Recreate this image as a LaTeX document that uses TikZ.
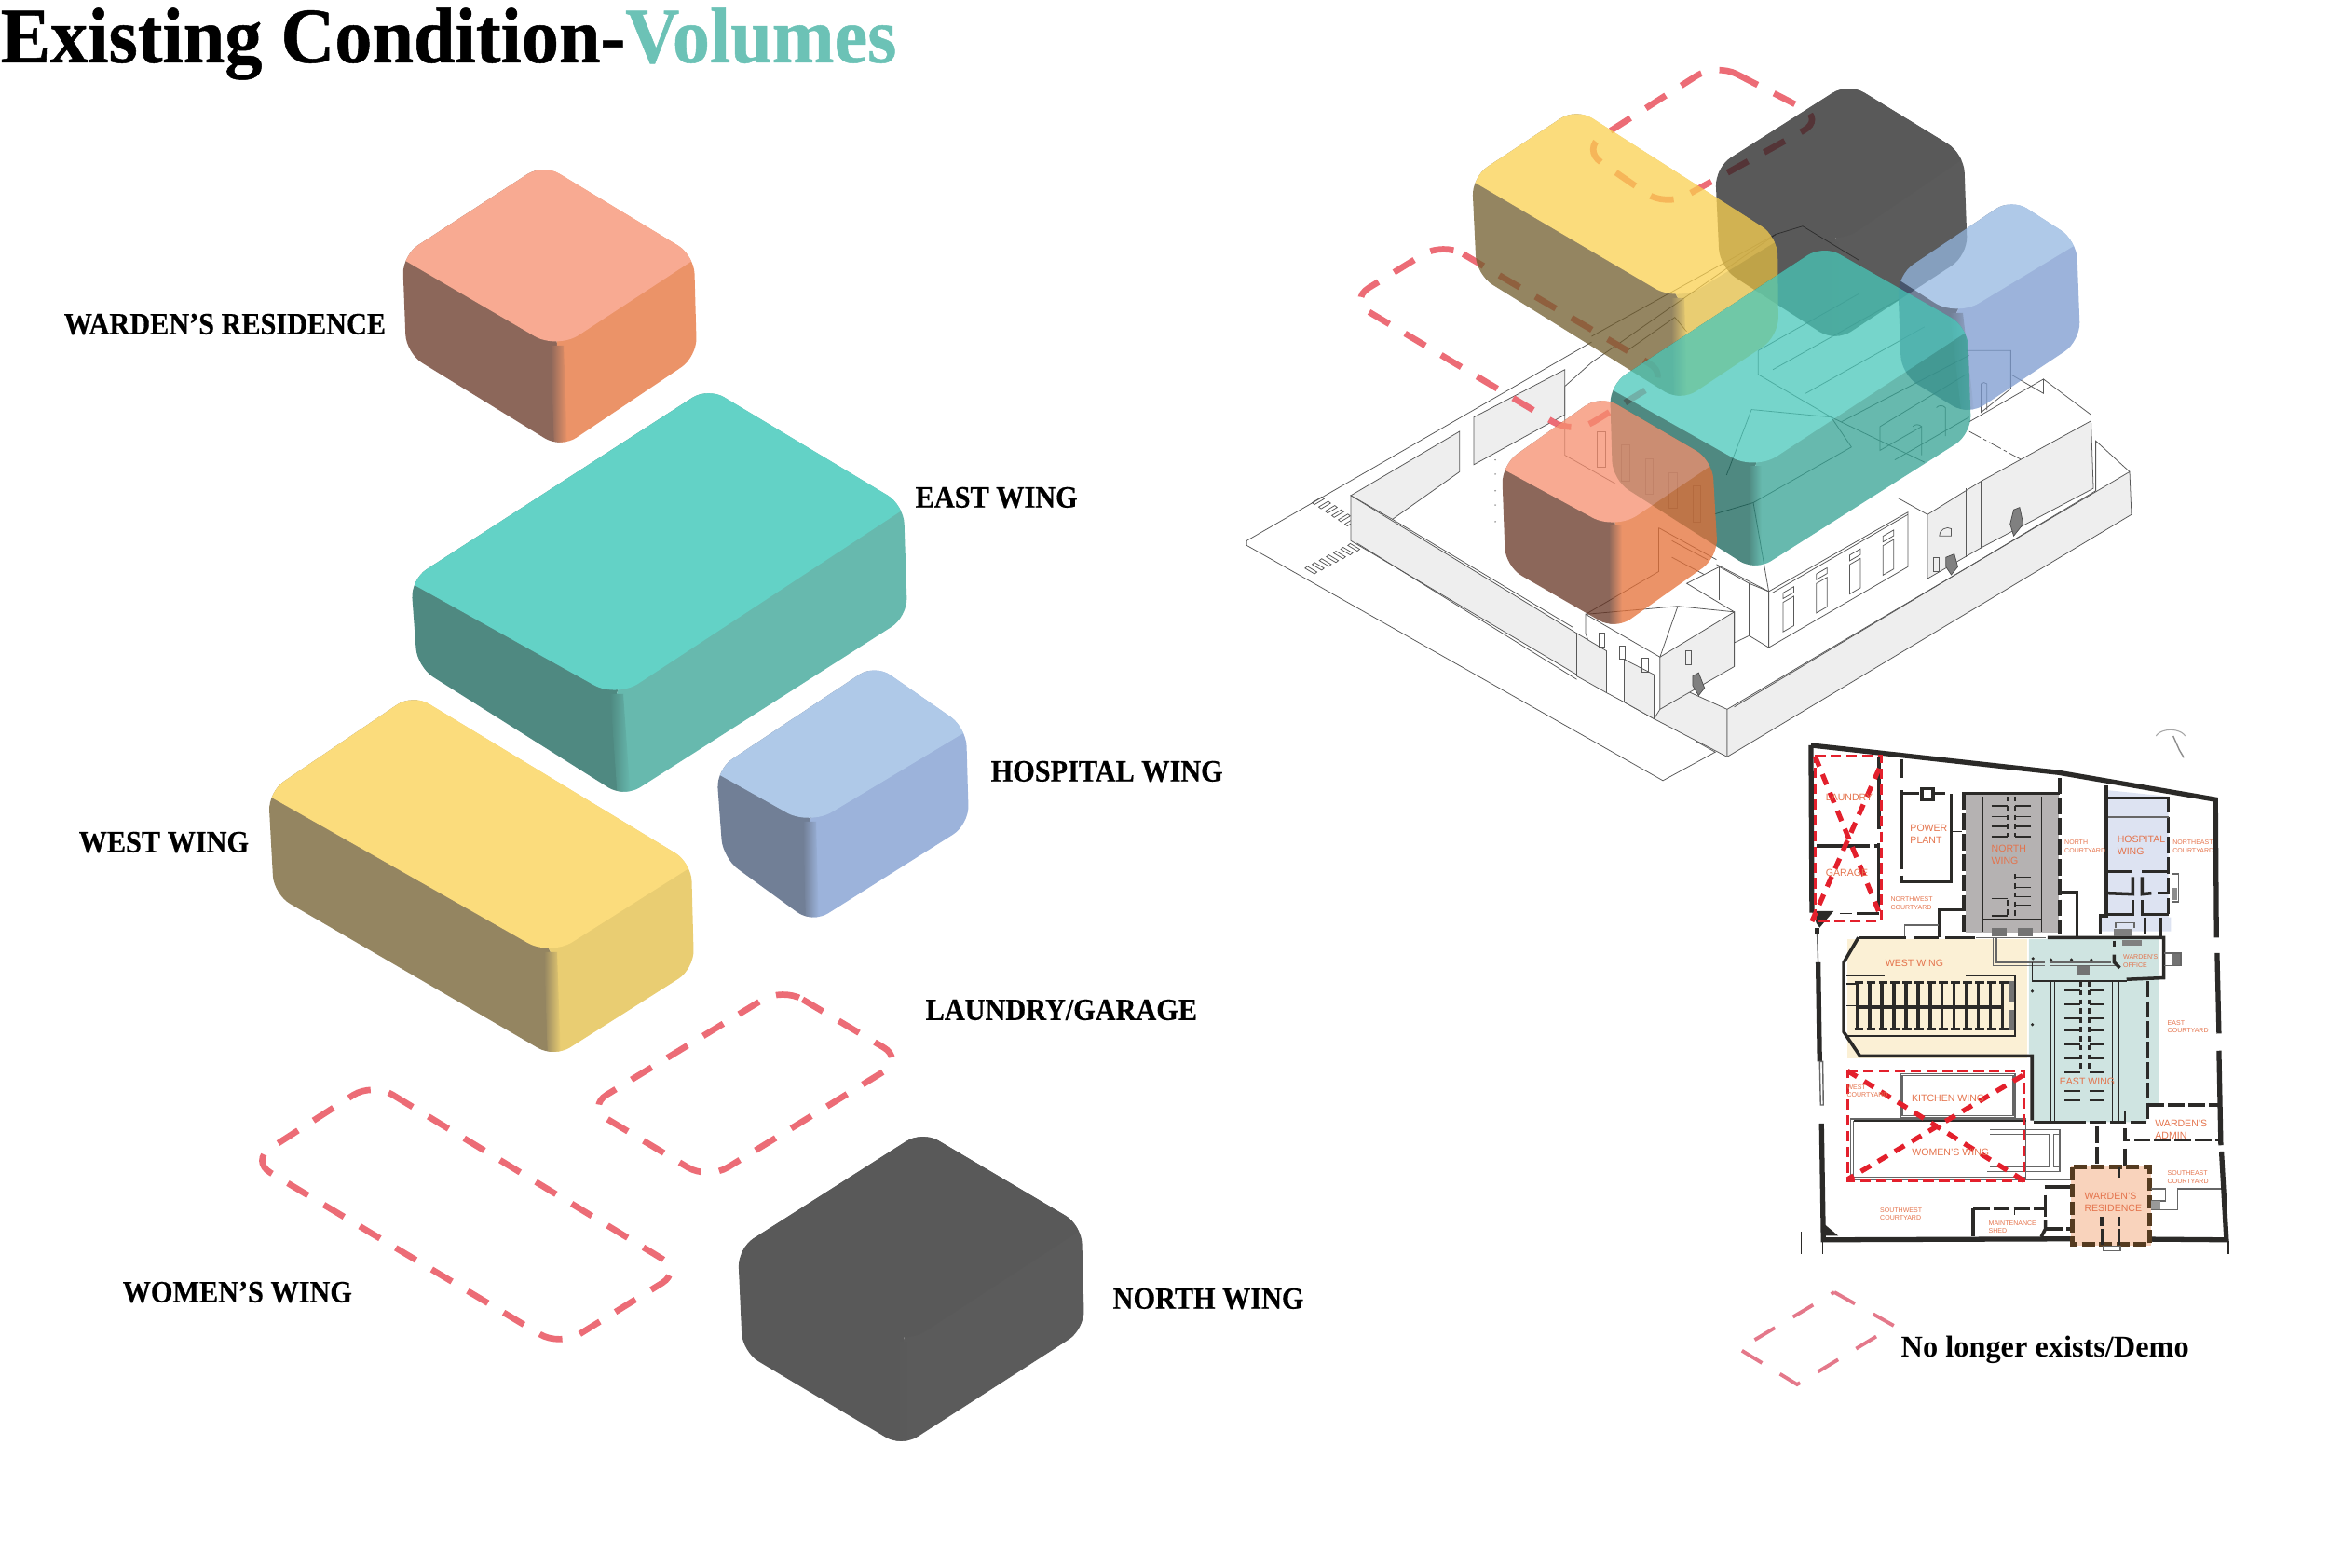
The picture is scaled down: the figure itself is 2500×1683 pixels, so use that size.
\documentclass[tikz,border=0pt]{standalone}
\usepackage{fontspec}
\setmainfont{Liberation Serif}
\newfontfamily\plansans{Liberation Sans}
\newfontfamily\titleserif{Liberation Serif}[FakeStretch=0.95, BoldFeatures={FakeBold=0.6}]
\newfontfamily\nameserif{Liberation Serif}[FakeStretch=0.915, BoldFeatures={FakeBold=0.4}]
\usetikzlibrary{calc, positioning}
\definecolor{wardentop}{HTML}{F8AA92}
\definecolor{wardenleft}{HTML}{8C675A}
\definecolor{wardenright}{HTML}{EB9368}
\definecolor{easttop}{HTML}{63D2C6}
\definecolor{eastleft}{HTML}{4F8981}
\definecolor{eastright}{HTML}{67B9AE}
\definecolor{westtop}{HTML}{FBDC7C}
\definecolor{westleft}{HTML}{948561}
\definecolor{westright}{HTML}{E9CD72}
\definecolor{hosptop}{HTML}{AFC9E8}
\definecolor{hospleft}{HTML}{717F96}
\definecolor{hospright}{HTML}{9CB3DB}
\definecolor{northtop}{HTML}{595959}
\definecolor{northleft}{HTML}{595959}
\definecolor{northright}{HTML}{5B5B5B}
% stronger versions, for the see-through blocks
\definecolor{glasswardentop}{HTML}{F68E6E}
\definecolor{glasswardenleft}{HTML}{663423}
\definecolor{glasswardenright}{HTML}{E46F36}
\definecolor{glasseasttop}{HTML}{48C7B9}
\definecolor{glasseastleft}{HTML}{146257}
\definecolor{glasseastright}{HTML}{34A293}
\definecolor{glasswesttop}{HTML}{FAD050}
\definecolor{glasswestleft}{HTML}{705C2C}
\definecolor{glasswestright}{HTML}{E2BC43}
\definecolor{glasshosptop}{HTML}{94B7E0}
\definecolor{glasshospleft}{HTML}{425473}
\definecolor{glasshospright}{HTML}{7B9ACF}
\definecolor{glassnorthtop}{HTML}{222222}
\definecolor{glassnorthleft}{HTML}{222222}
\definecolor{glassnorthright}{HTML}{242424}
\definecolor{demoRed}{HTML}{EC6C76}
\definecolor{legendRed}{HTML}{E4788A}
\definecolor{planRed}{HTML}{E3202C}
\definecolor{planText}{HTML}{E4734C}
\definecolor{planWall}{HTML}{2B2A28}
\definecolor{wallGray}{HTML}{EEEEEE}
\definecolor{titleTeal}{HTML}{6CC2B6}
\definecolor{roomWest}{HTML}{FBF0D5}
\definecolor{roomEast}{HTML}{CFE4E1}
\definecolor{roomNorth}{HTML}{B5B2B2}
\definecolor{roomHosp}{HTML}{DDE3F2}
\definecolor{roomWarden}{HTML}{F9D3BC}
\def\volop{1}
% one rounded block: colour, top, left, right, front, low left, low right, bottom
\newcommand{\isovolume}[8]{%
  \begin{scope}[transparency group, opacity=\volop]
    \clip[rounded corners=2mm] ($#3+(-2,0)$) -- ($#2+(0,-6)$) -- ($#4+(2,0)$) -- ($#7+(2,0)$) -- ($#8+(0,6)$) -- ($#6+(-2,0)$) -- cycle;
    \fill[#1left] ($#3+(-9,0)$) -- ($#2+(0,-9)$) -- #5 -- ($#8+(0,9)$) -- ($#6+(-9,0)$) -- cycle;
    \fill[#1right] #5 -- ($#2+(0,-9)$) -- ($#4+(9,0)$) -- ($#7+(9,0)$) -- ($#8+(0,9)$) -- cycle;
    \shade[left color=#1left, right color=#1right]
      ($#5+(-7,0)$) -- ($#5+(7,0)$) -- ($#8+(7,9)$) -- ($#8+(-7,9)$) -- cycle;
    \fill[#1top] ($#3+(-9,0)$) -- ($#2+(0,-9)$) -- ($#4+(9,0)$) [rounded corners=2.8mm] -- ($#5+(0,4)$) [sharp corners] -- cycle;
  \end{scope}}

\begin{document}
\begin{tikzpicture}[
    x=0.01cm, y=-0.01cm,
    volname/.style={font=\nameserif\bfseries\fontsize{9.4}{11}\selectfont, anchor=west, inner sep=0pt},
    demoline/.style={draw=demoRed, line width=1.9pt, dash pattern=on 7.2pt off 5.6pt, rounded corners=2.5mm},
    lineart/.style={draw=black!65, line width=0.22pt},
    greywall/.style={lineart, fill=wallGray},
    whitewall/.style={lineart, fill=white},
    stair/.style={fill=black!50, draw=black!70, line width=0.2pt},
    planfill/.style={draw=none},
    wall/.style={draw=planWall, line width=1pt},
    thinwall/.style={draw=planWall, line width=0.4pt},
    doublewall/.style={draw=black!60, line width=0.4pt},
    outerwall/.style={draw=planWall, line width=1.5pt},
    dashwall/.style={wall, dash pattern=on 5pt off 1.2pt},
    bedwall/.style={thinwall, line width=0.8pt, dash pattern=on 1.6pt off 1.2pt},
    redbox/.style={draw=planRed, line width=0.8pt, dash pattern=on 3.2pt off 1.6pt},
    redx/.style={draw=planRed, line width=1.5pt, dash pattern=on 3.4pt off 2.6pt},
    plantext/.style={font=\plansans\fontsize{3}{3.7}\selectfont, text=planText, align=left, inner sep=0pt},
    plansmall/.style={font=\plansans\fontsize{2}{2.5}\selectfont, text=planText, align=left, inner sep=0pt},
  ]
  \useasboundingbox (0,0) rectangle (2500,1683);

  % title
  \node[anchor=base west, inner sep=0pt, font=\titleserif\bfseries\fontsize{24}{28}\selectfont] (title) at (0,67)
    {Existing Condition-\textcolor{titleTeal}{Volumes}};

  % exploded volumes
  \isovolume{warden}{(583,182)}{(434,274)}{(743,274)}{(598,371)}{(438,379)}{(746,383)}{(602,475)}
  \isovolume{east}{(760,422)}{(443,622)}{(968,542)}{(662,745)}{(450,716)}{(972,662)}{(670,850)}
  \isovolume{west}{(443,751)}{(290,850)}{(740,926)}{(591,1022)}{(296,960)}{(743,1040)}{(595,1129)}
  \isovolume{hosp}{(939,719)}{(771,826)}{(1035,781)}{(869,882)}{(778,921)}{(1038,885)}{(872,985)}
  \isovolume{north}{(990,1220)}{(794,1340)}{(1159,1315)}{(970,1440)}{(799,1451)}{(1162,1427)}{(968,1547)}

  % removed volumes
  \draw[demoline] (840,1060) -- (970,1137) -- (760,1266) -- (630,1188) -- cycle;
  \draw[demoline] (400,1162) -- (732,1364) -- (601,1445) -- (269,1246) -- cycle;

  % volume names
  \node[volname] (wardenname) at (68,348) {WARDEN’S RESIDENCE};
  \node[volname] (eastname) at (982,534) {EAST WING};
  \node[volname] (hospname) at (1063,828) {HOSPITAL WING};
  \node[volname] (westname) at (84,904) {WEST WING};
  \node[volname] (laundryname) at (993,1084) {LAUNDRY/GARAGE};
  \node[volname] (womenname) at (131,1387) {WOMEN’S WING};
  \node[volname] (northname) at (1194,1394) {NORTH WING};

  % line drawing of the site
  \begin{scope}[shift={(1300,50)}, x=0.00638cm, y=-0.0051cm]
    \draw[lineart] (640,622) -- (60,1040) -- (60,1050) -- (760,1545) -- (848,1485) -- (815,1462);
    \foreach \i in {0,...,6} {
      \draw[lineart] ({170+11*\i},{960+9*\i}) -- ++(16,-12) -- ++(4,4) -- ++(-16,12) -- cycle;
      \draw[lineart] ({158+12*\i},{1098-8*\i}) -- ++(16,12) -- ++(4,-4) -- ++(-16,-12) -- cycle;
    }
    \draw[greywall] (235,945) -- (418,810) -- (418,895) -- (305,995) -- (245,952) -- cycle;
    \draw[greywall] (442,780) -- (595,680) -- (595,775) -- (442,880) -- cycle;
    \draw[greywall] (235,945) -- (615,1235) -- (615,1322) -- (235,1040) -- cycle;
    \draw[lineart] (245,1045) -- (615,1332);
    \draw[lineart] (305,995) -- (608,1222);
    \draw[greywall] (745,1325) -- (868,1395) -- (868,1495) -- (745,1415) -- cycle;
    \draw[greywall] (868,1395) -- (1545,895) -- (1548,985) -- (868,1495) -- cycle;
    \draw[lineart] (880,1390) -- (1488,935) -- (1488,830) -- (1545,895);
    % back of the buildings
    \draw[lineart] (595,715) -- (640,665) -- (950,395) -- (995,378) -- (1090,450);
    \draw[lineart] (595,715) -- (595,860) -- (680,920);
    \draw[lineart] (640,610) -- (950,395);
    \draw[lineart] (700,640) -- (780,570) -- (800,600);
    \draw[lineart] (920,640) -- (1090,520);
    \draw[lineart] (945,680) -- (1160,530);
    \draw[lineart] (1000,730) -- (1200,590);
    \draw[lineart] (1060,790) -- (1275,650);
    \draw[lineart] (920,640) -- (920,690) -- (1043,780);
    \draw[lineart] (1125,800) -- (1270,690);
    \draw[lineart] (1150,870) -- (1275,780);
    \draw[lineart] (1125,800) -- (1125,850) -- (1195,800) -- (1195,860);
    \draw[lineart] (1220,760) to[bend left=50] (1235,760) -- (1235,820);
    \draw[lineart] (1180,800) to[bend left=50] (1195,800);
    \draw[lineart] (1270,640) -- (1345,640) -- (1345,720) -- (1295,770) -- (1295,710) to[bend left=50] (1305,710) -- (1305,765);
    \draw[lineart] (1345,690) -- (1400,730) -- (1400,700) -- (1275,790);
    \draw[lineart] (1400,700) -- (1480,775) -- (1480,790);
    \draw[lineart, dash pattern=on 4pt off 1pt on 1pt off 1pt] (1275,810) -- (1430,915);
    \draw[lineart, dash pattern=on 4pt off 1pt] (1360,890) -- (1425,930);
    \draw[lineart, dash pattern=on 4pt off 1pt] (1365,945) -- (1410,980);
    % roof lines
    \draw[lineart] (909,764) -- (1043,780) -- (1077,843) -- (912,960) -- (847,984);
    \draw[lineart] (909,764) -- (867,902);
    \draw[lineart] (1043,780) -- (1200,875);
    \draw[lineart] (912,960) -- (938,1147);
    \foreach \x in {650,690,730,770,810} \draw[lineart] (\x,{810+(\x-650)*0.72}) rectangle ++(14,75);
    \foreach \y in {870,900,935,965,1000} \fill[black!45] (478,\y) circle (1.6 and 1.6);
    \draw[lineart] (753,1013) -- (850,1080);
    \draw[lineart] (753,1013) -- (753,1105) -- (630,1195);
    \foreach \y in {1040,1075} \draw[lineart] (775,\y) -- ++(60,40);
    % front range with its windows
    \draw[whitewall] (905,1130) -- (938,1147) -- (938,1265) -- (905,1240) -- cycle;
    \draw[whitewall] (938,1147) -- (1172,980) -- (1172,1095) -- (938,1265) -- cycle;
    \draw[lineart] (944,1150) -- (1172,985);
    \draw[lineart] (850,1090) -- (938,1147);
    \foreach \x in {962,1018,1074,1130} {
      \draw[lineart] (\x,{1170-0.71*(\x-962)}) -- ++(18,-13) -- ++(0,62) -- ++(-18,13) -- cycle;
      \draw[lineart] (\x,{1150-0.71*(\x-962)}) -- ++(18,-13) -- ++(0,12) -- ++(-18,13) -- cycle;
    }
    % south-east tower and wall
    \draw[lineart] (1155,950) -- (1205,985);
    \draw[greywall] (1205,985) -- (1295,915) -- (1295,1055) -- (1205,1120) -- cycle;
    \draw[lineart] (1270,930) -- (1270,1075);
    \draw[lineart] (1225,1030) to[bend left=70] (1245,1015) -- (1245,1030) -- cycle;
    \draw[lineart] (1215,1075) rectangle (1225,1105);
    \draw[stair] (1236,1075) -- (1250,1068) -- (1256,1095) -- (1245,1112) -- (1236,1095) -- cycle;
    \draw[greywall] (1295,915) -- (1480,788) -- (1484,930) -- (1295,1055) -- cycle;
    \draw[stair] (1350,975) -- (1360,970) -- (1366,1005) -- (1350,1030) -- (1344,1005) -- cycle;
    % warden's house
    \draw[whitewall] (800,1130) -- (855,1095) -- (905,1130) -- (905,1240) -- (880,1255) -- (880,1190) -- cycle;
    \draw[lineart] (855,1095) -- (855,1165);
    \draw[greywall] (755,1285) -- (880,1190) -- (880,1305) -- (755,1395) -- cycle;
    \draw[whitewall] (630,1195) -- (755,1285) -- (755,1395) -- (745,1415) -- (695,1380) -- (665,1360) -- (630,1235) -- cycle;
    \draw[greywall] (615,1235) -- (665,1272) -- (665,1360) -- (615,1325) -- cycle;
    \draw[greywall] (695,1290) -- (745,1322) -- (745,1415) -- (695,1380) -- cycle;
    \draw[lineart] (630,1195) -- (785,1178) -- (880,1190);
    \draw[lineart] (755,1285) -- (785,1178);
    \foreach \x/\y in {652/1235,687/1262,725/1288,798/1272} \draw[lineart] (\x,\y) rectangle ++(10,28);
    \draw[stair] (810,1325) -- (820,1318) -- (830,1350) -- (820,1366) -- (810,1345) -- cycle;
  \end{scope}

  % removed volumes, seen from above
  \draw[demoline] (1842,68) -- (1958,128) -- (1788,222) -- (1698,160) -- cycle;
  \draw[demoline] (1549,260) -- (1792,403) -- (1689,466) -- (1448,322) -- cycle;

  % the volumes over the site
  \def\volop{0.75}
  \isovolume{glassnorth}{(1984,95)}{(1843,180)}{(2106,165)}{(1970,260)}{(1848,287)}{(2110,274)}{(1970,361)}
  \isovolume{glasshosp}{(2159,219)}{(2039,295)}{(2227,258)}{(2100,336)}{(2043,402)}{(2231,366)}{(2113,440)}
  \isovolume{glasswest}{(1692,122)}{(1582,190)}{(1906,254)}{(1801,320)}{(1587,295)}{(1907,361)}{(1804,425)}
  \isovolume{glasseast}{(1957,269)}{(1730,413)}{(2110,351)}{(1884,501)}{(1733,515)}{(2114,466)}{(1884,607)}
  \isovolume{glasswarden}{(1718,430)}{(1614,499)}{(1836,494)}{(1734,565)}{(1618,608)}{(1842,598)}{(1734,670)}
  \def\volop{1}

  % floor plan
  \begin{scope}[shift={(1900,770)}, x=0.003333cm, y=-0.003333cm]
    \fill[planfill, fill=roomWest] (250,715) -- (830,715) -- (830,1100) -- (250,1100) -- cycle;
    \fill[planfill, fill=roomEast] (835,715) -- (1255,715) -- (1255,1250) -- (1215,1250) -- (1215,1305) -- (850,1305) -- (850,1090) -- (835,1085) -- cycle;
    \fill[planfill, fill=roomNorth] (630,250) -- (930,250) -- (930,695) -- (630,695) -- cycle;
    \fill[planfill, fill=roomHosp] (1090,235) -- (1285,255) -- (1285,645) -- (1293,645) -- (1293,690) -- (1060,690) -- (1060,640) -- (1090,640) -- cycle;
    \fill[planfill, fill=roomWarden] (970,1445) -- (1228,1445) -- (1228,1705) -- (970,1705) -- cycle;
    % boundary
    \draw[outerwall] (132,90) -- (930,178) -- (1437,265) -- (1440,710);
    \draw[outerwall] (1442,760) -- (1448,1020);
    \draw[outerwall] (1448,1075) -- (1454,1380);
    \draw[outerwall] (1456,1400) -- (1472,1685) -- (1228,1683);
    \draw[outerwall] (132,90) -- (135,630);
    \draw[outerwall] (152,680) -- (152,700);
    \draw[outerwall] (155,790) -- (160,1110);
    \draw[outerwall] (166,1310) -- (172,1685) -- (970,1682);
    \draw[doublewall] (152,700) -- (155,790);
    \draw[doublewall] (160,1110) -- (163,1250) -- (172,1250) -- (170,1110) -- cycle;
    \fill[planWall] (170,1630) -- (220,1672) -- (170,1672) -- cycle;
    \fill[planWall] (135,625) -- (205,625) -- (160,678) -- (150,665) -- cycle;
    \draw[thinwall] (100,1660) -- (100,1730);
    \draw[thinwall] (170,1690) -- (170,1730);
    \draw[thinwall] (1478,1690) -- (1478,1730);
    % laundry and garage
    \draw[wall] (150,415) -- (320,415);
    \draw[wall] (335,415) -- (350,415);
    \draw[wall] (352,125) -- (352,360);
    \draw[wall] (350,405) -- (350,625);
    \draw[wall] (280,632) -- (350,632);
    \draw[thinwall] (225,632) -- (265,632);
    % power plant
    \draw[wall] (425,135) -- (425,195);
    \draw[wall] (425,235) -- (425,490);
    \draw[wall] (425,510) -- (425,530) -- (585,530) -- (585,245);
    \draw[wall] (425,245) -- (480,245);
    \draw[wall] (530,245) -- (565,245);
    \draw[wall] (490,230) rectangle (525,265);
    \draw[thinwall] (590,368) -- (620,368);
    % north wing
    \draw[wall] (620,245) -- (935,245);
    \draw[dashwall] (625,245) -- (625,700);
    \draw[dashwall] (935,195) -- (935,700);
    \draw[thinwall] (685,255) -- (685,690);
    \draw[thinwall] (875,255) -- (875,690);
    \draw[thinwall] (685,650) -- (875,650);
    \foreach \y in {285,320,352,385} {
      \draw[thinwall] (715,\y) -- (765,\y);
      \draw[thinwall] (790,\y) -- (840,\y);
    }
    \foreach \y in {515,548,578,605} \draw[thinwall] (790,\y) -- (840,\y);
    \foreach \y in {585,612,640} \draw[thinwall] (715,\y) -- (765,\y);
    \draw[bedwall] (768,255) -- (768,385);
    \draw[bedwall] (790,255) -- (790,385);
    \draw[bedwall] (790,505) -- (790,640);
    \draw[bedwall] (768,590) -- (768,640);
    \foreach \x in {715,800} \fill[black!55] (\x,680) rectangle ++(48,25);
    \draw[wall] (545,710) -- (545,620) -- (620,620);
    \draw[doublewall] (435,710) -- (435,670) -- (545,670);
    \draw[wall] (285,710) -- (440,710);
    \draw[wall] (465,710) -- (545,710);
    \draw[wall] (565,710) -- (660,710);
    \draw[doublewall] (665,710) -- (890,710);
    \draw[wall] (895,710) -- (1270,710) -- (1270,840) -- (1150,845);
    \draw[wall] (940,565) -- (990,565) -- (990,705);
    % hospital wing
    \draw[wall] (1085,220) -- (1085,640) -- (1065,640) -- (1065,700);
    \draw[dashwall] (1285,255) -- (1285,640);
    \draw[wall] (1090,260) -- (1285,260);
    \draw[doublewall] (1090,322) -- (1285,322);
    \draw[wall] (1090,497) -- (1170,497);
    \draw[wall] (1200,497) -- (1285,497);
    \draw[wall] (1170,515) -- (1170,570) -- (1090,567);
    \draw[wall] (1170,590) -- (1170,635) -- (1090,635);
    \draw[wall] (1200,515) -- (1200,570) -- (1230,567);
    \draw[wall] (1250,567) -- (1285,567);
    \draw[wall] (1200,590) -- (1200,635) -- (1285,635);
    \draw[wall] (1210,645) -- (1210,700);
    \draw[wall] (1260,645) -- (1260,705);
    \draw[doublewall] (1295,505) -- (1318,505) -- (1318,595) -- (1295,595);
    \fill[black!45] (1295,550) rectangle (1312,590);
    \draw[doublewall] (1115,680) -- (1115,662) -- (1175,662) -- (1175,680);
    \fill[black!50] (1108,682) rectangle (1168,705);
    \fill[black!50] (1135,718) rectangle (1200,735);
    % west wing
    \draw[wall] (285,710) -- (238,790) -- (238,1015) -- (290,1092) -- (845,1092) -- (845,1300);
    \foreach \i in {0,...,12} {
      \draw[draw=planWall, line width=1pt] ({282+39*\i},855) -- ({282+39*\i},1005);
      \draw[draw=planWall, line width=0.8pt] ({272+39*\i},855) -- ({300+39*\i},855);
      \draw[draw=planWall, line width=0.8pt] ({272+39*\i},1005) -- ({300+39*\i},1005);
    }
    \draw[draw=planWall, line width=1pt] (275,935) -- (755,935);
    \draw[thinwall] (245,832) -- (370,832);
    \draw[thinwall] (630,832) -- (790,832) -- (790,1028) -- (250,1028);
    \draw[thinwall] (245,860) -- (280,860);
    \draw[thinwall] (245,930) -- (280,930);
    \fill[black!55] (770,850) rectangle (788,915);
    \fill[black!55] (770,945) rectangle (788,1010);
    % east wing
    \draw[doublewall] (720,710) -- (720,800) -- (885,800);
    \draw[doublewall] (730,710) -- (730,790) -- (885,790);
    \draw[doublewall] (905,800) -- (1120,800);
    \draw[doublewall] (905,790) -- (1100,790);
    \draw[wall] (1110,720) -- (1110,740);
    \draw[wall] (1110,765) -- (1110,790) -- (1128,808);
    \fill[black!55] (988,803) rectangle (1032,828);
    \draw[thinwall] (845,790) -- (845,850) -- (1150,850);
    \foreach \x in {905,918,1105,1125} \draw[thinwall] (\x,850) -- (\x,1305);
    \draw[thinwall] (918,1270) -- (1115,1270);
    \foreach \y in {880,925,970,1010,1055,1100,1145,1205,1235} {
      \draw[thinwall] (950,\y) -- (1002,\y);
      \draw[thinwall] (1030,\y) -- (1075,\y);
    }
    \draw[bedwall] (1002,850) -- (1002,1145);
    \draw[bedwall] (1028,850) -- (1028,1145);
    \draw[dashwall] (1218,850) -- (1218,1305) -- (985,1305);
    \draw[wall] (985,1305) -- (850,1305);
    \draw[thinwall] (1130,1270) -- (1145,1270) -- (1145,1305);
    \foreach \x/\y in {848/778,906/782,972/782,1036/782,846/883,846/991} \fill[planWall] (\x,\y) circle (0.5pt);
    \draw[doublewall] (1272,760) -- (1325,760) -- (1325,800) -- (1272,800);
    \fill[black!55] (1295,762) rectangle (1322,798);
    % warden's admin
    \draw[dashwall] (1218,1250) -- (1450,1250);
    \draw[dashwall] (1145,1325) -- (1145,1362) -- (1450,1362);
    % kitchen and women's wing
    \draw[doublewall] (420,1150) rectangle (790,1290);
    \draw[doublewall] (426,1156) rectangle (784,1284);
    \draw[doublewall] (260,1295) rectangle (825,1490);
    \draw[planWall, line width=0.6pt] (270,1302) -- (825,1302);
    \draw[doublewall] (268,1302) -- (268,1482) -- (825,1482);
    \draw[doublewall] (710,1330) -- (935,1330) -- (935,1465) -- (700,1465);
    \draw[doublewall] (710,1345) -- (900,1345) -- (900,1448) -- (710,1448);
    \draw[doublewall] (915,1345) rectangle (935,1448);
    \draw[doublewall] (825,1490) -- (970,1490);
    % walls around the residence
    \draw[dashwall] (1055,1320) -- (1055,1445);
    \draw[wall] (1145,1390) -- (1145,1445);
    \draw[wall] (885,1515) -- (970,1515);
    \draw[wall] (888,1540) -- (888,1610);
    \draw[dashwall] (655,1585) -- (890,1585);
    \draw[wall] (655,1585) -- (655,1675);
    \draw[thinwall] (788,1585) -- (788,1605);
    \draw[dashwall] (890,1650) -- (970,1650);
    \draw[wall] (888,1620) -- (888,1650) -- (875,1675);
    % warden's residence
    \draw[draw=planWall!80!orange, line width=1.4pt, dash pattern=on 4pt off 1.3pt] (975,1450) rectangle (1225,1700);
    \foreach \x/\y/\u in {1125/1450/1485,1070/1610/1640,1125/1610/1640,1072/1650/1700,1125/1650/1700} \draw[wall] (\x,\y) -- (\x,\u);
    \draw[doublewall] (1075,1705) rectangle (1130,1720);
    \draw[doublewall] (1228,1520) -- (1275,1520) -- (1275,1560) -- (1228,1560);
    \draw[doublewall] (1228,1588) -- (1315,1588) -- (1315,1520) -- (1455,1520);
    \fill[black!40] (1230,1560) rectangle (1260,1588);
    % compass
    \draw[black!35, line width=0.3pt] (1245,60) arc[start angle=200, end angle=340, x radius=50, y radius=30];
    \draw[black!45, line width=0.4pt] (1300,60) -- (1320,105) -- (1335,130);
    % demolished
    \draw[redbox] (145,125) -- (358,125) -- (358,658) -- (145,658) -- cycle;
    \draw[redx] (145,125) -- (350,625);
    \draw[redx] (352,165) -- (135,658);
    \draw[redbox] (250,1140) -- (820,1140) -- (820,1495) -- (250,1495) -- cycle;
    \draw[redx] (250,1140) -- (820,1495);
    \draw[redx] (815,1155) -- (250,1490);
    % room names
    \node[plantext, anchor=west] (laundrytxt) at (178,258) {LAUNDRY};
    \node[plantext, anchor=west] (garagetxt) at (178,502) {GARAGE};
    \node[plantext, anchor=west] (powertxt) at (450,376) {POWER\\PLANT};
    \node[plantext, anchor=west] (northtxt) at (712,443) {NORTH\\WING};
    \node[plansmall, anchor=west] (nyardtxt) at (948,416) {NORTH\\COURTYARD};
    \node[plantext, anchor=west] (hosptxt) at (1118,412) {HOSPITAL\\WING};
    \node[plansmall, anchor=west] (neyardtxt) at (1297,416) {NORTHEAST\\COURTYARD};
    \node[plansmall, anchor=west] (nwyardtxt) at (387,600) {NORTHWEST\\COURTYARD};
    \node[plantext, anchor=west] (westtxt) at (370,794) {WEST WING};
    \node[plansmall, anchor=west] (officetxt) at (1137,786) {WARDEN’S\\OFFICE};
    \node[plansmall, anchor=west] (eyardtxt) at (1280,998) {EAST\\COURTYARD};
    \node[plantext, anchor=west] (easttxt) at (932,1174) {EAST WING};
    \node[plansmall, anchor=west] (wyardtxt) at (246,1205) {WEST\\COURTYARD};
    \node[plantext, anchor=west] (kitchentxt) at (455,1230) {KITCHEN WING};
    \node[plantext, anchor=west] (womentxt) at (456,1402) {WOMEN’S WING};
    \node[plantext, anchor=west] (admintxt) at (1240,1328) {WARDEN’S\\ADMIN};
    \node[plansmall, anchor=west] (seyardtxt) at (1280,1482) {SOUTHEAST\\COURTYARD};
    \node[plantext, anchor=west] (residencetxt) at (1012,1563) {WARDEN’S\\RESIDENCE};
    \node[plansmall, anchor=west] (swyardtxt) at (353,1602) {SOUTHWEST\\COURTYARD};
    \node[plansmall, anchor=west] (shedtxt) at (703,1644) {MAINTENANCE\\SHED};
  \end{scope}

  % legend
  \draw[legendRed, line width=1.1pt, dash pattern=on 7.2pt off 6.4pt] (1969,1387) -- (2033,1423) -- (1929,1486) -- (1867,1448) -- cycle;
  \node[anchor=west, inner sep=0pt, font=\bfseries\fontsize{9.2}{11}\selectfont] (legendname) at (2040,1449) {No longer exists/Demo};
\end{tikzpicture}
\end{document}
